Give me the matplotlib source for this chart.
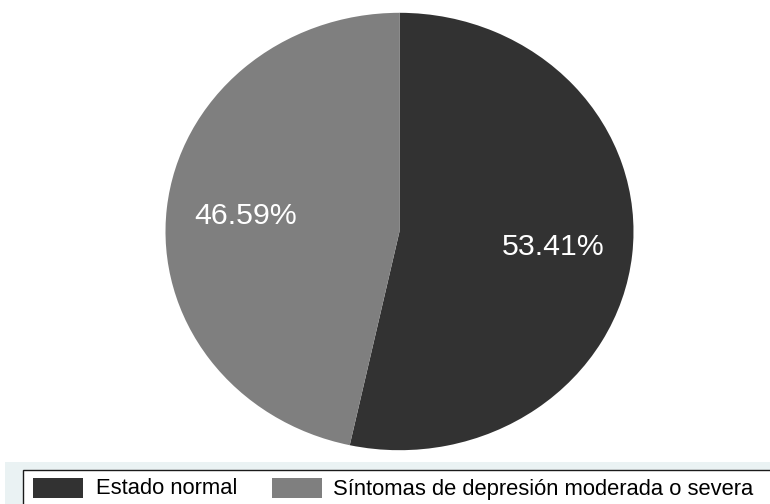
import matplotlib
matplotlib.use("Agg")
import matplotlib.pyplot as plt
from matplotlib.patches import Rectangle

categories = ["Estado normal", "Síntomas de depresión moderada o severa"]
shares = [53.41, 46.59]
colors = ["#323232", "#7f7f7f"]

plt.rcParams["font.family"] = ["Liberation Sans", "DejaVu Sans"]

W, H = 770, 504
fig = plt.figure(figsize=(W / 100, H / 100), dpi=100)
fig.patch.set_facecolor("white")

# Pie area (elliptical, stretched to the plot region)
cx, cy, rx, ry = 399.5, 231.5, 234.0, 218.7
ax = fig.add_axes([(cx - rx) / W, (H - cy - ry) / H, 2 * rx / W, 2 * ry / H])
wedges, texts = ax.pie(
    shares, colors=colors, startangle=90, counterclock=False,
    labels=[f"{v:.2f}%" for v in shares], labeldistance=0.66,
    wedgeprops=dict(linewidth=0), textprops=dict(color="white", fontsize=21.8),
)
for t in texts:
    t.set_horizontalalignment("center")
    t.set_verticalalignment("center")
ax.set_aspect("auto")
ax.set_xlim(-1, 1)
ax.set_ylim(-1, 1)
ax.axis("off")

# Legend strip at the bottom
def px(x, y, w, h):
    return (x / W, 1 - (y + h) / H, w / W, h / H)

bx, by, bw, bh = px(5, 462, 765, 42)
fig.patches.append(Rectangle((bx, by), bw, bh, transform=fig.transFigure,
                             facecolor="#eaf2f3", edgecolor="none", zorder=0))
lx, ly, lw, lh = px(23, 470, 760, 40)
fig.patches.append(Rectangle((lx, ly), lw, lh, transform=fig.transFigure,
                             facecolor="white", edgecolor="#1a1a1a", linewidth=1.0, zorder=1))

swatch_x = [33, 272]
text_x = [96, 333]
for cat, col, sx, tx in zip(categories, colors, swatch_x, text_x):
    rx0, ry0, rw, rh = px(sx, 478, 50, 20)
    fig.patches.append(Rectangle((rx0, ry0), rw, rh, transform=fig.transFigure,
                                 facecolor=col, edgecolor="none", zorder=2))
    fig.text(tx / W, 1 - 489 / H, cat, fontsize=15.8, color="black",
             ha="left", va="center", zorder=3)

fig.savefig("out.png", dpi=100)
